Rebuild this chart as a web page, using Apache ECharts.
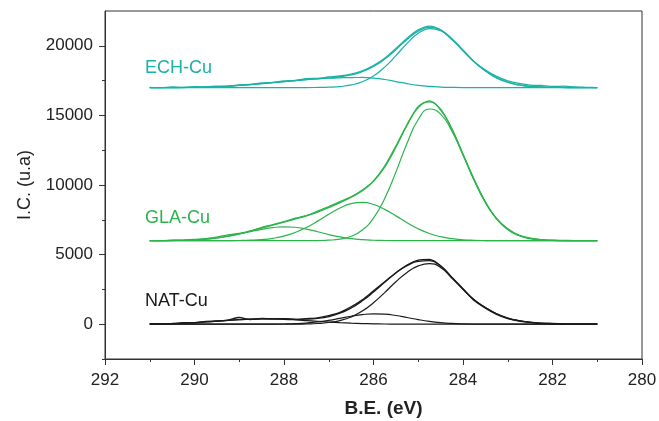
<!DOCTYPE html>
<html>
<head>
<meta charset="utf-8">
<style>
    html, body { margin: 0; padding: 0; background: #fff; }
    #chart { width: 659px; height: 421px; }
</style>
<script src="https://cdn.jsdelivr.net/npm/echarts@6/dist/echarts.min.js"></script>
</head>
<body>
<div id="chart"></div>
<script>
// binding energy (eV), shared by every curve
var be = [291, 290.75, 290.5, 290.25, 290, 289.75, 289.5, 289.25, 289, 288.75, 288.5, 288.25, 288, 287.75, 287.5, 287.25, 287, 286.75, 286.5, 286.25,
          286, 285.75, 285.5, 285.25, 285, 284.75, 284.5, 284.25, 284, 283.75, 283.5, 283.25, 283, 282.75, 282.5, 282.25, 282, 281.75, 281.5, 281.25, 281];

// vertical offsets of the stacked spectra
var offsets = { ech: 17000, gla: 6000, nat: 0 };
var labels = ["ECH-Cu", "GLA-Cu", "NAT-Cu"];

// ECH-Cu (above its baseline)
var echRaw  = [20, -10, 40, 10, 60, 40, 110, 90, 200, 230, 330, 370, 480, 520, 640, 660, 760, 830, 960, 1200, 1580, 2100, 2800, 3550, 4150, 4420, 4150, 3450, 2700, 1850, 1250, 800, 480, 300, 180, 150, 80, 100, 40, 20, 0];
var echFit  = [0, 0, 0, 5, 15, 35, 60, 100, 150, 210, 280, 355, 430, 500, 570, 633, 696, 774, 907, 1144, 1513, 2046, 2721, 3455, 4057, 4320, 4124, 3508, 2649, 1850, 1200, 700, 380, 190, 90, 40, 15, 5, 0, 0, 0];
var echMain = [0, 0, 0, 0, 0, 0, 0, 0, 0, 0, 0, 0, 0, 0, 0, 8, 26, 74, 187, 419, 833, 1466, 2291, 3175, 3897, 4240, 4089, 3496, 2649, 1850, 1200, 700, 380, 190, 90, 40, 15, 5, 0, 0, 0];
var echC2   = [0, 0, 0, 5, 15, 35, 60, 100, 150, 210, 280, 355, 430, 500, 570, 625, 670, 700, 720, 725, 680, 580, 430, 280, 160, 80, 35, 12, 0, 0, 0, 0, 0, 0, 0, 0, 0, 0, 0, 0, 0];

// GLA-Cu
var glaRaw  = [10, 0, 30, 40, 90, 150, 260, 420, 520, 700, 960, 1150, 1360, 1620, 1800, 2120, 2450, 2800, 3150, 3640, 4300, 5350, 6800, 8350, 9650, 10050, 9450, 8050, 6200, 4400, 2800, 1600, 850, 400, 180, 80, 30, 20, 0, 10, 0];
var glaFit  = [2, 5, 13, 29, 61, 116, 204, 329, 494, 688, 898, 1114, 1330, 1552, 1784, 2055, 2374, 2732, 3118, 3584, 4258, 5288, 6709, 8289, 9557, 9977, 9382, 8024, 6213, 4352, 2751, 1568, 805, 373, 156, 59, 20, 6, 0, 0, 0];
var glaMain = [0, 0, 0, 0, 0, 0, 0, 0, 0, 0, 0, 0, 0, 0, 2, 10, 35, 113, 314, 764, 1626, 3026, 4924, 7000, 8704, 9460, 9096, 7879, 6146, 4324, 2740, 1564, 805, 373, 156, 59, 20, 6, 0, 0, 0];
var glaC2   = [0, 0, 0, 0, 0, 1, 2, 5, 14, 35, 81, 172, 332, 588, 950, 1404, 1899, 2349, 2656, 2748, 2600, 2250, 1781, 1289, 853, 517, 286, 145, 67, 28, 11, 4, 0, 0, 0, 0, 0, 0, 0, 0, 0];
var glaC3   = [2, 5, 13, 29, 61, 115, 202, 324, 480, 653, 817, 942, 998, 964, 832, 641, 440, 270, 148, 72, 32, 12, 4, 0, 0, 0, 0, 0, 0, 0, 0, 0, 0, 0, 0, 0, 0, 0, 0, 0, 0];

// NAT-Cu
var natRaw  = [0, 40, 20, 110, 90, 200, 230, 300, 480, 330, 420, 380, 400, 350, 400, 460, 620, 850, 1250, 1750, 2400, 3050, 3700, 4250, 4600, 4650, 4200, 3350, 2500, 1700, 1150, 700, 400, 230, 150, 80, 60, 20, 0, 10, 0];
var natFit  = [18, 31, 51, 80, 119, 166, 219, 274, 323, 359, 380, 382, 369, 353, 366, 419, 551, 791, 1165, 1678, 2318, 3009, 3682, 4200, 4520, 4560, 4180, 3374, 2546, 1749, 1203, 750, 440, 250, 130, 60, 25, 10, 0, 0, 0];
var natMain = [0, 0, 0, 0, 0, 0, 0, 0, 0, 0, 0, 0, 0, 0, 19, 50, 120, 262, 521, 940, 1542, 2270, 3050, 3716, 4188, 4357, 4069, 3320, 2522, 1740, 1200, 750, 440, 250, 130, 60, 25, 10, 0, 0, 0];
var natC2   = [0, 0, 0, 0, 0, 0, 0, 0, 0, 0, 2, 6, 16, 39, 84, 161, 275, 419, 570, 691, 748, 723, 624, 480, 330, 203, 111, 54, 24, 9, 3, 0, 0, 0, 0, 0, 0, 0, 0, 0, 0];
var natC3   = [18, 31, 51, 80, 119, 166, 219, 274, 323, 359, 378, 376, 353, 314, 263, 208, 156, 110, 74, 47, 28, 16, 8, 4, 2, 0, 0, 0, 0, 0, 0, 0, 0, 0, 0, 0, 0, 0, 0, 0, 0];

// axis ticks
var yTicks = [0, 5000, 10000, 15000, 20000];
var yMinorTicks = [-2500, 2500, 7500, 12500, 17500];

var colors = { ech: "#19b2a6", gla: "#2bb44c", nat: "#1a1a1a" };
var font = "Liberation Sans, Arial, sans-serif";

function curve(values, offset, color, smooth, width) {
    return {
        type: "line",
        data: be.map(function (x, i) { return [x, values[i] + offset]; }),
        symbol: "none",
        smooth: smooth,
        lineStyle: { color: color, width: width },
        silent: true
    };
}

var series = [];
[
    ["ech", [echMain, echC2], echFit, echRaw],
    ["gla", [glaMain, glaC2, glaC3], glaFit, glaRaw],
    ["nat", [natMain, natC2, natC3], natFit, natRaw]
].forEach(function (s) {
    var key = s[0], off = offsets[key], c = colors[key];
    s[1].forEach(function (comp) { series.push(curve(comp, off, c, true, 1.2)); });
    series.push(curve(s[2], off, c, true, 1.3));
    series.push(curve(s[3], off, c, 0.25, 1.3));
});

var myChart = echarts.init(document.getElementById("chart"));
myChart.setOption({
    animation: false,
    backgroundColor: "#fff",
    grid: {
        left: 105, right: 17, top: 11, bottom: 62,
        show: true, borderColor: "#333", borderWidth: 1,
        outerBoundsMode: "none"
    },
    xAxis: {
        type: "value",
        min: 280, max: 292, interval: 2,
        inverse: true,
        name: "B.E. (eV)",
        nameLocation: "middle",
        nameGap: 40,
        nameTextStyle: { fontFamily: font, fontSize: 19, fontWeight: "bold", color: "#222", padding: [0, 0, 0, 20] },
        axisLine: { onZero: false, lineStyle: { color: "#333", width: 1 } },
        axisTick: { inside: false, length: 6, lineStyle: { color: "#333" } },
        minorTick: { show: true, splitNumber: 2, length: 3, lineStyle: { color: "#333" } },
        axisLabel: { fontFamily: font, fontSize: 17, color: "#222", margin: 13 },
        splitLine: { show: false }
    },
    yAxis: [{
        type: "value",
        min: -2500, max: 22500,
        name: "I.C. (u.a)",
        nameLocation: "middle",
        nameRotate: 90,
        nameGap: 71,
        nameTextStyle: { fontFamily: font, fontSize: 18, color: "#222" },
        axisLine: { show: true, onZero: false, lineStyle: { color: "#333", width: 1 } },
        axisTick: { show: true, inside: false, length: 6, customValues: yTicks, lineStyle: { color: "#333" } },
        axisLabel: { fontFamily: font, fontSize: 17, color: "#222", margin: 12, customValues: yTicks,
            formatter: function (v) { return String(v); } },
        splitLine: { show: false }
    }, {
        type: "value",
        min: -2500, max: 22500,
        position: "left",
        axisLine: { show: false, onZero: false },
        axisTick: { show: true, inside: false, length: 3, customValues: yMinorTicks, lineStyle: { color: "#333" } },
        axisLabel: { show: false },
        splitLine: { show: false }
    }],
    graphic: [
        { type: "text", left: 145, top: 59, style: { text: labels[0], fill: colors.ech, font: "18px " + font } },
        { type: "text", left: 145, top: 209, style: { text: labels[1], fill: colors.gla, font: "18px " + font } },
        { type: "text", left: 145, top: 292, style: { text: labels[2], fill: colors.nat, font: "18px " + font } }
    ],
    series: series
});
</script>
</body>
</html>
